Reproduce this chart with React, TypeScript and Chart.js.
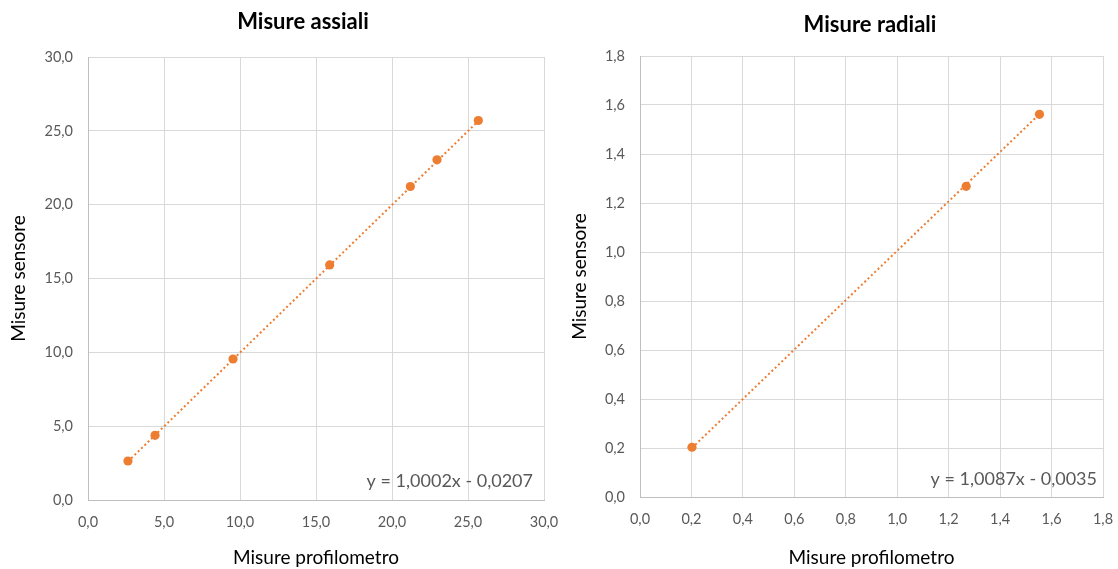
import React, { useEffect, useRef } from "react";
import { Chart, registerables } from "chart.js";

Chart.register(...registerables);

const FONT = "Lato, 'Open Sans', sans-serif";
const ORANGE = "#ED7D31";
const GRID = "#D9D9D9";
const AXIS = "#BFBFBF";
const TICK_COLOR = "#595959";

// ---- Misure assiali ----
const axialTitle = "Misure assiali";
const axialProfilometro = [2.63, 4.41, 9.54, 15.9, 21.21, 22.96, 25.68];
const axialSensore = [2.64, 4.38, 9.55, 15.92, 21.23, 23.04, 25.7];
const axialTicks = [0, 5, 10, 15, 20, 25, 30];
const axialTrend = [1.0002, -0.0207]; // slope, intercept
const axialEquation = "y = 1,0002x - 0,0207";

// ---- Misure radiali ----
const radialTitle = "Misure radiali";
const radialProfilometro = [0.202, 1.268, 1.553];
const radialSensore = [0.203, 1.268, 1.562];
const radialTicks = [0, 0.2, 0.4, 0.6, 0.8, 1.0, 1.2, 1.4, 1.6, 1.8];
const radialTrend = [1.0087, -0.0035];
const radialEquation = "y = 1,0087x - 0,0035";

const xAxisTitle = "Misure profilometro";
const yAxisTitle = "Misure sensore";

const fmt = (v: number) => Number(v).toFixed(1).replace(".", ",");

type Panel = {
  title: string;
  xs: number[];
  ys: number[];
  ticks: number[];
  trend: number[];
  equation: string;
  // layout
  padRight: number;
  yWidth: number;
  xHeight: number;
  titleTop: number;
  titleBottom: number;
  titleX: number;
  yTitlePad: number;
  eqRight: number;
  eqBottom: number;
};

function makeConfig(p: Panel): any {
  const minX = Math.min(...p.xs);
  const maxX = Math.max(...p.xs);
  const trendData = [
    { x: minX, y: p.trend[0] * minX + p.trend[1] },
    { x: maxX, y: p.trend[0] * maxX + p.trend[1] },
  ];
  const lo = p.ticks[0];
  const hi = p.ticks[p.ticks.length - 1];
  const tickOpts = {
    padding: 15,
    color: TICK_COLOR,
    font: { family: FONT, size: 14.5 },
    autoSkip: false,
    maxRotation: 0,
    callback: (v: any) => fmt(v),
  };
  return {
    type: "scatter",
    data: {
      datasets: [
        {
          type: "scatter",
          data: p.xs.map((v, i) => ({ x: v, y: p.ys[i] })),
          backgroundColor: ORANGE,
          borderColor: ORANGE,
          pointRadius: 4.6,
          pointBorderWidth: 0,
          order: 1,
        },
        {
          type: "line",
          data: trendData,
          borderColor: ORANGE,
          borderWidth: 2,
          borderDash: [2, 2.6],
          pointRadius: 0,
          fill: false,
          tension: 0,
          order: 2,
        },
      ],
    },
    options: {
      animation: false,
      responsive: false,
      events: [],
      layout: { padding: { left: 0, right: p.padRight, top: 0, bottom: 0 } },
      plugins: {
        legend: { display: false },
        tooltip: { enabled: false },
        title: {
          display: true,
          text: p.title,
          color: "#000",
          font: { family: FONT, size: 22, weight: "bold", lineHeight: 1.2 },
          padding: { top: p.titleTop, bottom: p.titleBottom },
        },
      },
      scales: {
        x: {
          type: "linear",
          position: "bottom",
          min: lo,
          max: hi,
          afterBuildTicks: (s: any) => {
            s.ticks = p.ticks.map((v) => ({ value: v }));
          },
          afterFit: (s: any) => {
            s.height = p.xHeight;
            s.paddingLeft = 0;
            s.paddingRight = 0;
          },
          grid: { color: GRID, drawTicks: false, lineWidth: 1 },
          border: { color: AXIS, width: 1 },
          ticks: { ...tickOpts, padding: 14 },
          title: {
            display: true,
            text: xAxisTitle,
            color: "#000",
            font: { family: FONT, size: 19, lineHeight: 1.2 },
            padding: { top: 0, bottom: 0 },
          },
        },
        y: {
          type: "linear",
          position: "left",
          min: lo,
          max: hi,
          afterBuildTicks: (s: any) => {
            s.ticks = p.ticks.map((v) => ({ value: v }));
          },
          afterFit: (s: any) => {
            s.width = p.yWidth;
          },
          grid: { color: GRID, drawTicks: false, lineWidth: 1 },
          border: { color: AXIS, width: 1 },
          ticks: tickOpts,
          title: {
            display: true,
            text: yAxisTitle,
            color: "#000",
            font: { family: FONT, size: 19, lineHeight: 1.2 },
            padding: { top: p.yTitlePad, bottom: 0 },
          },
        },
      },
    },
    plugins: [
      {
        id: "titleShift",
        afterLayout(chart: any) {
          const t = chart.titleBlock;
          if (t) {
            const w = t.right - t.left;
            t.left = p.titleX - w / 2;
            t.right = p.titleX + w / 2;
          }
        },
      },
      {
        id: "equation",
        afterDraw(chart: any) {
          const { ctx, chartArea } = chart;
          ctx.save();
          ctx.font = `18px ${FONT}`;
          ctx.fillStyle = TICK_COLOR;
          ctx.textAlign = "right";
          ctx.textBaseline = "middle";
          ctx.fillText(p.equation, chartArea.right - p.eqRight, chartArea.bottom - p.eqBottom);
          ctx.restore();
        },
      },
    ],
  };
}

const leftPanel: Panel = {
  title: axialTitle,
  xs: axialProfilometro,
  ys: axialSensore,
  ticks: axialTicks,
  trend: axialTrend,
  equation: axialEquation,
  padRight: 16,
  yWidth: 88,
  xHeight: 69,
  titleTop: 8.8,
  titleBottom: 21.8,
  titleX: 303,
  yTitlePad: 7.6,
  eqRight: 11,
  eqBottom: 19,
};

const rightPanel: Panel = {
  title: radialTitle,
  xs: radialProfilometro,
  ys: radialSensore,
  ticks: radialTicks,
  trend: radialTrend,
  equation: radialEquation,
  padRight: 15,
  yWidth: 80,
  xHeight: 72,
  titleTop: 11.8,
  titleBottom: 17.8,
  titleX: 310,
  yTitlePad: 8.6,
  eqRight: 6,
  eqBottom: 18,
};

function ChartCanvas({ panel, left, width }: { panel: Panel; left: number; width: number }) {
  const ref = useRef<HTMLCanvasElement | null>(null);
  useEffect(() => {
    if (!ref.current) return;
    const chart = new Chart(ref.current, makeConfig(panel));
    return () => chart.destroy();
  }, [panel]);
  return (
    <canvas
      ref={ref}
      width={width}
      height={569}
      style={{ position: "absolute", left, top: 0, width, height: 569 }}
    />
  );
}

export default function App() {
  return (
    <div
      style={{
        position: "absolute",
        left: 0,
        top: 0,
        width: 1118,
        height: 569,
        background: "#fff",
        overflow: "hidden",
      }}
    >
      <ChartCanvas panel={leftPanel} left={0} width={560} />
      <ChartCanvas panel={rightPanel} left={560} width={558} />
    </div>
  );
}
